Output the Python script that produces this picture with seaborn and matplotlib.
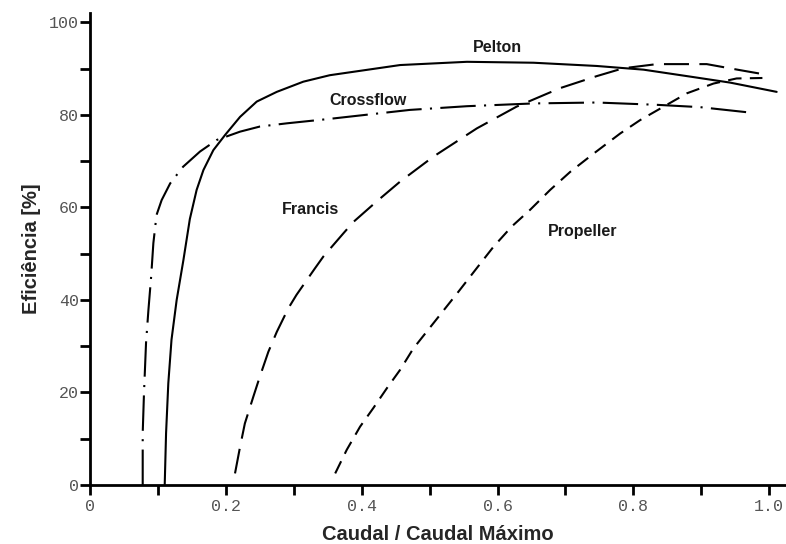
import numpy as np
import pandas as pd
import matplotlib
matplotlib.use("Agg")
import matplotlib.pyplot as plt
import seaborn as sns

# %% DATA
pelton_x = [0.110, 0.112, 0.1153, 0.120, 0.1276, 0.1375, 0.147, 0.157, 0.167, 0.1816,
            0.199, 0.221, 0.2455, 0.275, 0.314, 0.353, 0.4566, 0.555, 0.653, 0.746,
            0.815, 0.8837, 0.9426, 1.011]
pelton_y = [0, 11.2, 22, 31.4, 40, 48.6, 57.5, 63.8, 68.1, 72.4,
            75.7, 79.6, 82.9, 85.0, 87.2, 88.6, 90.8, 91.5, 91.3, 90.6,
            89.8, 88.3, 87.0, 85.0]

crossflow_x = [0.0776, 0.0776, 0.0776, 0.0795, 0.0825, 0.086, 0.090, 0.0933, 0.098,
               0.1055, 0.118, 0.137, 0.162, 0.1866, 0.221, 0.250, 0.290, 0.349,
               0.471, 0.555, 0.653, 0.746, 0.8346, 0.898, 0.967]
crossflow_y = [0, 6.1, 11.2, 19.9, 30.7, 37.8, 45, 52.3, 58.4,
               61.6, 65.2, 68.8, 72.1, 74.6, 76.4, 77.5, 78.2, 79.1,
               81.1, 81.9, 82.5, 82.7, 82.2, 81.7, 80.6]

francis_x = [0.2135, 0.221, 0.228, 0.2405, 0.250, 0.2626, 0.275, 0.292, 0.304, 0.331,
             0.3436, 0.373, 0.388, 0.422, 0.4566, 0.5056, 0.5695, 0.628, 0.692, 0.746,
             0.785, 0.8346, 0.908, 0.957, 1.0]
francis_y = [2.5, 8.3, 13.3, 19.1, 23.4, 28.8, 33.1, 38.2, 41.1, 46.8,
             49.4, 54.4, 56.9, 61.3, 65.6, 71, 77.1, 81.8, 85.8, 88.4,
             90.1, 91.0, 91.0, 89.7, 88.6]

propeller_x = [0.361, 0.378, 0.3976, 0.417, 0.437, 0.4566, 0.476, 0.5425, 0.5695, 0.594,
               0.621, 0.648, 0.6775, 0.707, 0.741, 0.7806, 0.81, 0.879, 0.918, 0.952,
               0.99]
propeller_y = [2.5, 7.6, 12.6, 16.6, 20.9, 24.9, 29.5, 41.8, 46.9, 51.5,
               55.9, 59.5, 63.8, 67.7, 71.6, 76, 78.9, 84.7, 86.8, 87.9,
               88.0]

labels = ["Pelton", "Crossflow", "Francis", "Propeller"]
label_x = [0.600, 0.409, 0.324, 0.725]
label_y = [94.5, 83.1, 59.5, 54.7]

x_ticks = [0, 0.2, 0.4, 0.6, 0.8, 1.0]
x_ticklabels = ["0", "0.2", "0.4", "0.6", "0.8", "1.0"]
y_ticks = [0, 20, 40, 60, 80, 100]

# %% STYLE
sns.set_style("ticks")
plt.rcParams["font.family"] = ["Liberation Sans", "DejaVu Sans"]

fig = plt.figure(figsize=(7.86, 5.44), dpi=100)
ax = fig.add_axes([0.1145, 0.1085, 0.884, 0.868])

series = [
    (pelton_x, pelton_y, "-"),
    (crossflow_x, crossflow_y, (0, (17, 4, 1, 4))),
    (francis_x, francis_y, (0, (12, 5))),
    (propeller_x, propeller_y, (0, (6.5, 4))),
]
for xs, ys, ls in series:
    df = pd.DataFrame({"x": xs, "y": ys})
    sns.lineplot(data=df, x="x", y="y", ax=ax, color="black", linewidth=1.5,
                 linestyle=ls, sort=False, estimator=None)

for txt, lx, ly in zip(labels, label_x, label_y):
    ax.text(lx, ly, txt, ha="center", va="center", fontsize=11.5,
            fontweight="bold", color="#1a1a1a")

# %% AXES
ax.set_xlim(0, 1.023)
ax.set_ylim(0, 102.1)
sns.despine(ax=ax)
for side in ["left", "bottom"]:
    ax.spines[side].set_linewidth(2)
    ax.spines[side].set_color("black")

ax.set_xticks(x_ticks)
ax.set_xticklabels(x_ticklabels)
ax.set_xticks(np.arange(0.1, 1.0, 0.2), minor=True)
ax.set_yticks(y_ticks)
ax.set_yticks(np.arange(10, 100, 20), minor=True)
ax.tick_params(which="both", direction="out", length=7, width=2, color="black")
ax.tick_params(axis="x", pad=3)
ax.tick_params(axis="y", pad=1)
for lab in ax.get_xticklabels() + ax.get_yticklabels():
    lab.set_fontfamily("Liberation Mono")
    lab.set_fontsize(12)
    lab.set_color("#555555")

ax.set_xlabel("Caudal / Caudal Máximo", fontsize=14.5, fontweight="bold", labelpad=8)
ax.set_ylabel("Eficiência [%]", fontsize=14.5, fontweight="bold", labelpad=6)

fig.savefig("out.png", dpi=100)
